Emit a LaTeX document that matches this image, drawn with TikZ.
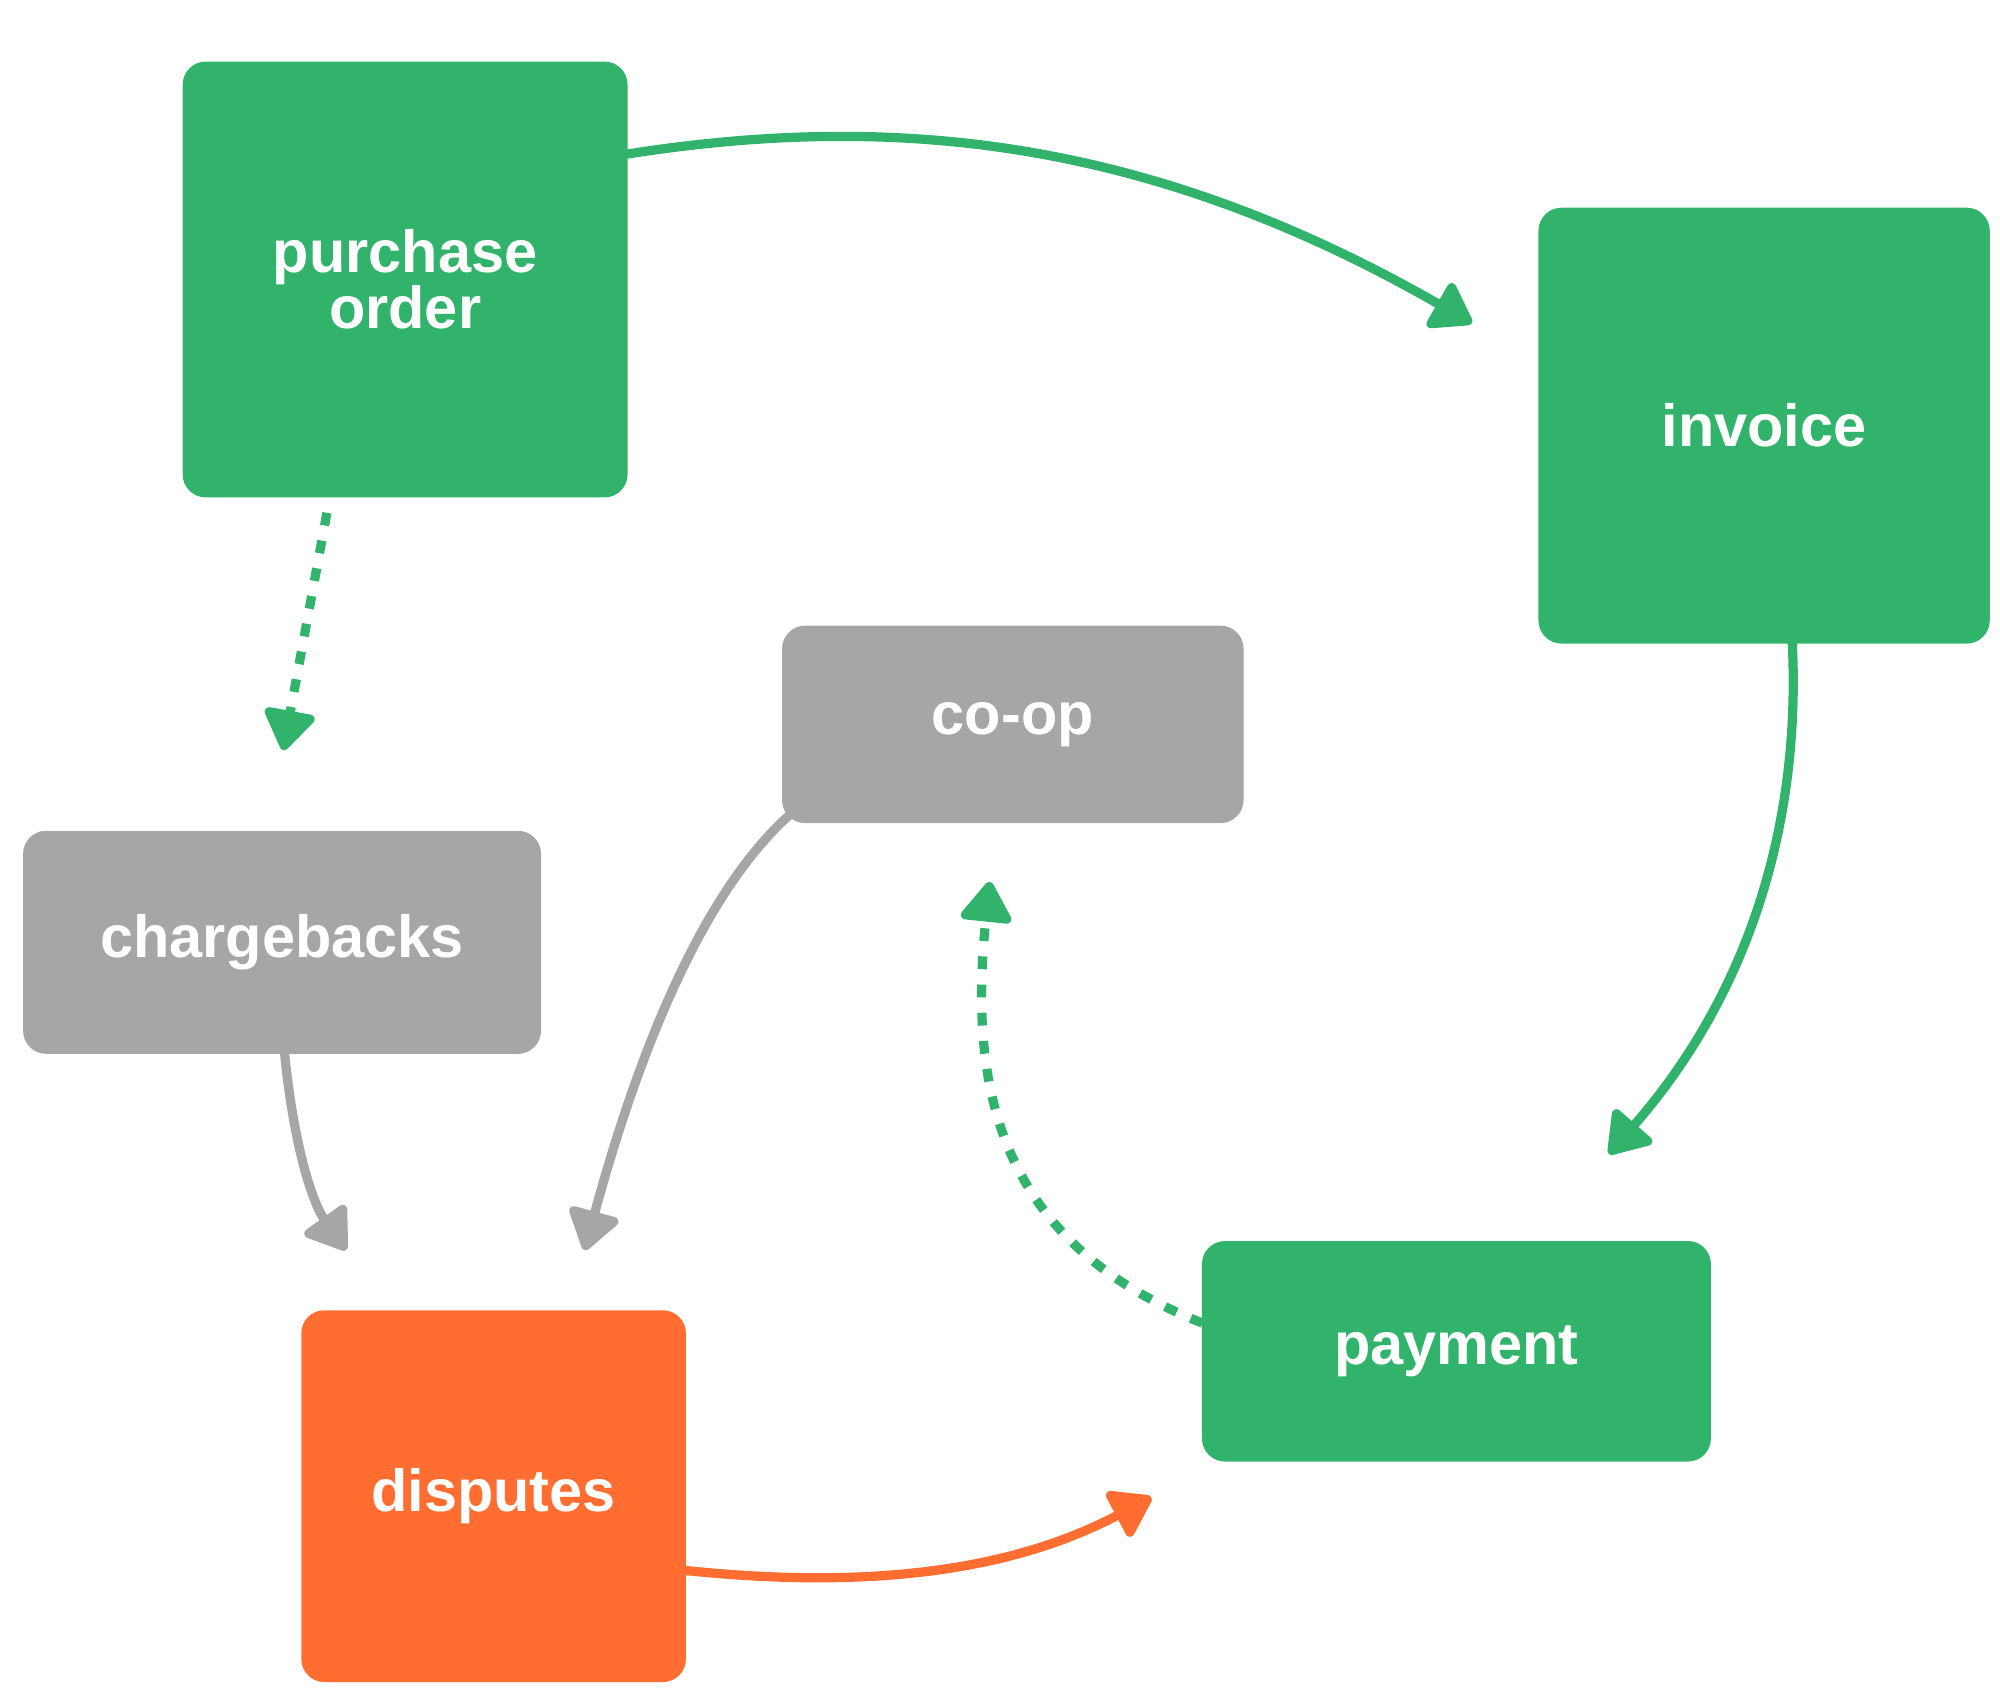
\documentclass[tikz,border=0pt]{standalone}
\usepackage{fontspec}
\setmainfont{Liberation Sans}
\usetikzlibrary{arrows.meta}
\definecolor{gr}{HTML}{31B36B}
\definecolor{gy}{HTML}{A6A6A6}
\definecolor{og}{HTML}{FF6D30}
\begin{document}
\begin{tikzpicture}[x=0.05cm,y=-0.05cm,
 box/.style={rounded corners=0.9cm,inner sep=0pt,text=white,align=center,
   font=\fontsize{66}{62}\selectfont\bfseries},
 conn/.style={line width=0.36cm,line cap=round,
   -{Triangle[length=1.7cm,width=2.2cm,round]}},
 dots/.style={conn,line cap=butt,dash pattern=on 0.5cm off 0.6cm}]
\useasboundingbox (0,0) rectangle (1560,1326);
\node[box,fill=gr,minimum width=347*0.05cm,minimum height=340*0.05cm] (po) at (316,218) {purchase\\order};
\node[box,fill=gr,minimum width=352*0.05cm,minimum height=340*0.05cm] (inv) at (1376,332) {invoice};
\node[box,fill=gy,minimum width=360*0.05cm,minimum height=154*0.05cm] (coop) at (790,565) {co-op};
\node[box,fill=gy,minimum width=404*0.05cm,minimum height=174*0.05cm] (cb) at (220,735) {chargebacks};
\node[box,fill=gr,minimum width=397*0.05cm,minimum height=172*0.05cm] (pay) at (1136,1054) {payment};
\node[box,fill=og,minimum width=300*0.05cm,minimum height=290*0.05cm] (dis) at (385,1167) {disputes};
\coordinate (a1) at (478,122); \coordinate (a2) at (1148,252);
\coordinate (b1) at (255,400); \coordinate (b2) at (221,585);
\coordinate (c1) at (1398,502); \coordinate (c2) at (1255,900);
\coordinate (d1) at (620,632); \coordinate (d2) at (456,975);
\coordinate (e1) at (222,822); \coordinate (e2) at (270,975);
\coordinate (f1) at (535,1225); \coordinate (f2) at (898,1168);
\coordinate (g1) at (938,1032); \coordinate (g2) at (772,688);
\draw[conn,gr] (a1) .. controls (700,85) and (900,110) .. (a2);
\draw[dots,gr] (b1) -- (b2);
\draw[conn,gr] (c1) .. controls (1405,650) and (1360,780) .. (c2);
\draw[conn,gy] (d1) .. controls (540,700) and (490,850) .. (d2);
\draw[conn,gy] (e1) .. controls (230,900) and (245,940) .. (e2);
\draw[conn,og] (f1) .. controls (680,1240) and (790,1225) .. (f2);
\draw[dots,gr] (g1) .. controls (780,970) and (755,850) .. (g2);
\end{tikzpicture}
\end{document}
